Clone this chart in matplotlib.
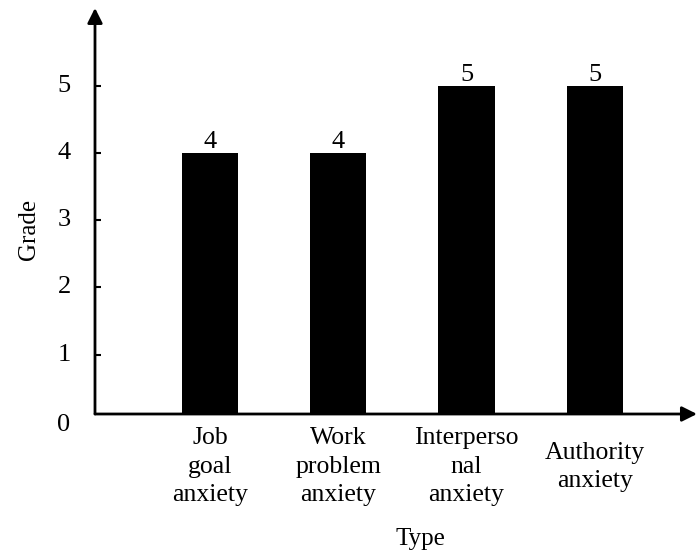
import matplotlib
matplotlib.use("Agg")
import matplotlib.pyplot as plt
from matplotlib.transforms import blended_transform_factory

categories = ["Job\ngoal\nanxiety", "Work\nproblem\nanxiety", "Interperso\nnal\nanxiety", "Authority\nanxiety"]
values = [4, 4, 5, 5]
yticks = [1, 2, 3, 4, 5]

plt.rcParams['font.family'] = ['Liberation Serif', 'DejaVu Serif']
FS_TICK = 19
FS_CAT = 18.5
FS_LAB = 18

fig = plt.figure(figsize=(6.99, 5.54), dpi=100)
ax = fig.add_axes([0.1359, 0.2527, 0.9971 - 0.1359, 0.9856 - 0.2527])

x = list(range(len(categories)))
ax.bar(x, values, width=0.44, color='black', zorder=2)
for xi, v in zip(x, values):
    ax.annotate(str(v), (xi, v), xytext=(0, 0), textcoords='offset points',
                ha='center', va='bottom', fontsize=FS_TICK)

ax.set_xlim(-0.896, 3.796)
ax.set_ylim(0.119, 6.156)

for s in ax.spines.values():
    s.set_visible(False)

arrow_style = dict(arrowstyle='-|>,head_length=0.9,head_width=0.45', lw=2, color='black',
                   shrinkA=0, shrinkB=0)
ax.annotate('', xy=(0, 1), xytext=(0, 0), xycoords='axes fraction', textcoords='axes fraction',
            arrowprops=arrow_style, annotation_clip=False)
ax.annotate('', xy=(1, 0), xytext=(0, 0), xycoords='axes fraction', textcoords='axes fraction',
            arrowprops=arrow_style, annotation_clip=False)

ax.set_yticks(yticks)
ax.set_yticklabels([str(t) for t in yticks], fontsize=FS_TICK)
ax.tick_params(axis='y', direction='in', length=4.5, width=1.5, pad=17.5)
for lab in ax.get_yticklabels():
    lab.set_va('center')
trans = blended_transform_factory(ax.transAxes, ax.transData)
ax.text(-24.5 / 602, -0.05, "0", transform=trans, ha='right', va='center',
        fontsize=FS_TICK, clip_on=False)

ax.set_xticks(x)
ax.set_xticklabels(categories, fontsize=FS_CAT, linespacing=1.37)
ax.tick_params(axis='x', length=0, pad=38)
for lab in ax.get_xticklabels():
    lab.set_va('center')
    lab.set_multialignment('center')

ax.set_xlabel("Type", fontsize=FS_LAB, va='center')
ax.xaxis.set_label_coords(0.54, -0.307)
ax.set_ylabel("Grade", fontsize=FS_LAB, va='center')
ax.yaxis.set_label_coords(-0.11, 0.455)

fig.savefig("out.png", dpi=100)
